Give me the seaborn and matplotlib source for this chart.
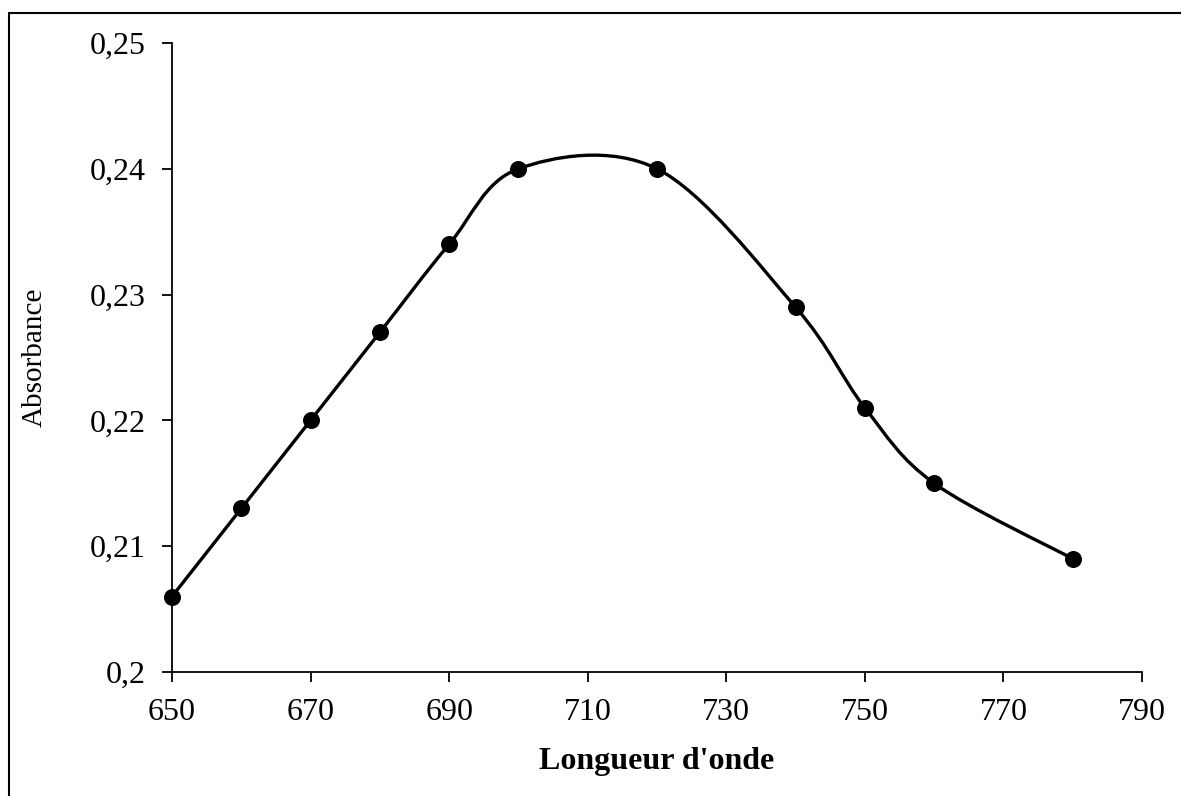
import numpy as np
import pandas as pd
import matplotlib
matplotlib.use("Agg")
import matplotlib.pyplot as plt
from matplotlib.path import Path
from matplotlib.patches import PathPatch
from matplotlib.lines import Line2D
from matplotlib.ticker import FuncFormatter
import seaborn as sns

# données
longueur_onde = [650, 660, 670, 680, 690, 700, 720, 740, 750, 760, 780]
absorbance = [0.206, 0.213, 0.220, 0.227, 0.234, 0.240, 0.240, 0.229, 0.221, 0.215, 0.209]
x_ticks = [650, 670, 690, 710, 730, 750, 770, 790]
y_ticks = [0.20, 0.21, 0.22, 0.23, 0.24, 0.25]

df = pd.DataFrame({"x": longueur_onde, "y": absorbance})

sns.set_style("white")
plt.rcParams["font.family"] = ["Liberation Serif", "DejaVu Serif"]
plt.rcParams["text.color"] = "black"
plt.rcParams["axes.labelcolor"] = "black"

fig = plt.figure(figsize=(11.81, 7.96), dpi=100)
ax = fig.add_axes([172 / 1181, 1 - 672 / 796, (1142 - 172) / 1181, (672 - 43) / 796])

# courbe lissée (style Excel : Bezier cubique, Catmull-Rom)
pts = df[["x", "y"]].to_numpy(dtype=float)
n = len(pts)
verts = [tuple(pts[0])]
codes = [Path.MOVETO]
for i in range(n - 1):
    p0 = pts[i - 1] if i > 0 else pts[i]
    p1 = pts[i]
    p2 = pts[i + 1]
    p3 = pts[i + 2] if i + 2 < n else pts[i + 1]
    c1 = p1 + (p2 - p0) / 6
    c2 = p2 - (p3 - p1) / 6
    verts += [tuple(c1), tuple(c2), tuple(p2)]
    codes += [Path.CURVE4] * 3
ax.add_patch(PathPatch(Path(verts, codes), facecolor="none", edgecolor="black",
                       lw=2.4, zorder=2, capstyle="round", joinstyle="round"))

sns.scatterplot(data=df, x="x", y="y", ax=ax, color="black", s=150,
                edgecolor="black", linewidth=0, zorder=3, legend=False, clip_on=False)

ax.set_xlim(650, 790)
ax.set_ylim(0.2, 0.25)
ax.set_xticks(x_ticks)
ax.set_yticks(y_ticks)
ax.yaxis.set_major_formatter(FuncFormatter(lambda v, p: f"{round(v, 3):g}".replace(".", ",")))

for s in ["top", "right"]:
    ax.spines[s].set_visible(False)
for s in ["left", "bottom"]:
    ax.spines[s].set_color("black")
    ax.spines[s].set_linewidth(1.3)

ax.tick_params(axis="both", direction="out", length=7, width=1.3, color="black",
               labelsize=23, labelcolor="black", bottom=True, left=True)
ax.tick_params(axis="x", pad=12)
ax.tick_params(axis="y", pad=12)
ax.set_xlabel("Longueur d'onde", fontsize=23, fontweight="bold", labelpad=14, color="black")
ax.set_ylabel("Absorbance", fontsize=21, labelpad=30, color="black")

# cadre du graphique (coupé à droite et en bas)
fig.add_artist(Line2D([9.5 / 1181, 1], [1 - 12.5 / 796, 1 - 12.5 / 796],
                      transform=fig.transFigure, color="black", lw=1.5))
fig.add_artist(Line2D([9.5 / 1181, 9.5 / 1181], [0, 1 - 12.5 / 796],
                      transform=fig.transFigure, color="black", lw=1.5))

fig.savefig("out.png", dpi=100)
